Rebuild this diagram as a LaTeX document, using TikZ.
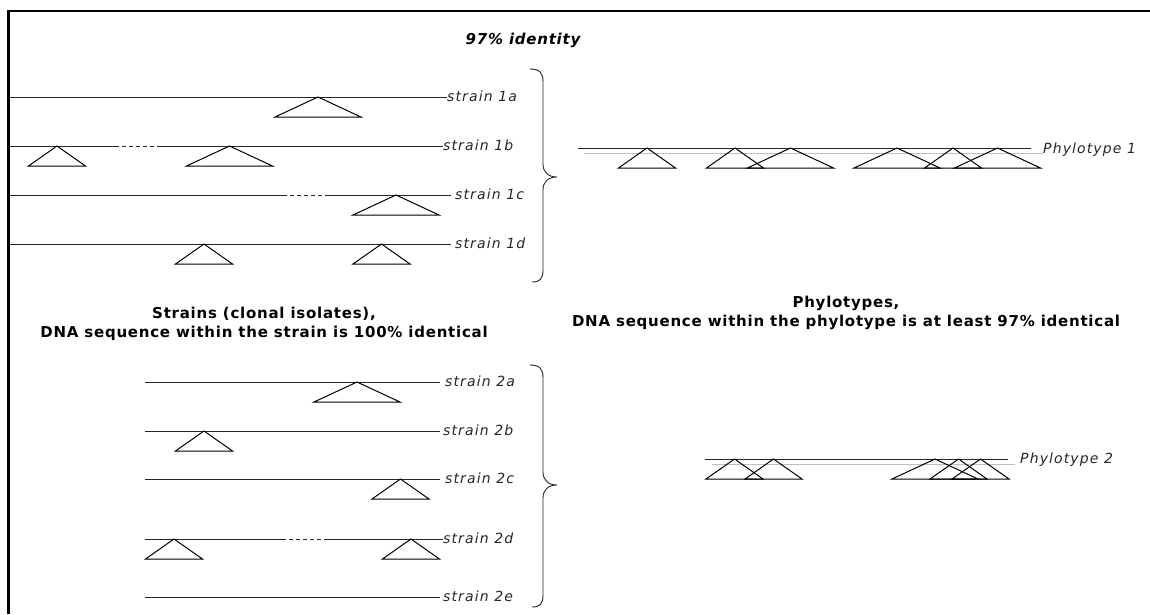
\documentclass[tikz,border=0pt]{standalone}
\usepackage{fontspec}
\setmainfont{DejaVu Sans}
\newfontfamily\labfont[LetterSpace=8]{DejaVu Sans}
\newfontfamily\headfont[LetterSpace=5]{DejaVu Sans}
\begin{document}
\begin{tikzpicture}[x=1pt,y=-1pt,
  seq/.style={line width=1pt,black!85},
  dashseg/.style={line width=1pt,black!85,dash pattern=on 4pt off 3pt},
  grayseq/.style={line width=1pt,black!25},
  tri/.style={line width=1pt,black},
  brace/.style={line width=0.9pt,black!85},
  lab/.style={font=\labfont\itshape\fontsize{14}{14}\selectfont,inner sep=0pt,anchor=base west,text=black!85},
  head/.style={font=\headfont\bfseries\fontsize{15}{19.5}\selectfont,align=center,inner sep=0pt},
  smalltri/.pic={\draw[tri] (0,0) -- (-28.5,20) -- (28.5,20) -- cycle;},
  largetri/.pic={\draw[tri] (0,0) -- (-43,20) -- (43,20) -- cycle;}
]
\useasboundingbox (0,0) rectangle (1150,614);
% frame
\draw[line width=3pt] (8.5,9.5) -- (8.5,614);
\draw[line width=2pt] (7,10.5) -- (1150,10.5);

% title
\node[font=\headfont\bfseries\itshape\fontsize{15}{15}\selectfont,inner sep=0pt] (title) at (523,40) {97\% identity};

% ---- group 1 strains ----
\node[lab] (s1a) at (447,101) {strain 1a};
\node[lab] (s1b) at (443,150) {strain 1b};
\node[lab] (s1c) at (455,199) {strain 1c};
\node[lab] (s1d) at (455,248) {strain 1d};
\coordinate (l1a) at (10,97);
\coordinate (l1b) at (10,146);
\coordinate (l1c) at (10,195);
\coordinate (l1d) at (10,244);
\draw[seq] (l1a) -- (s1a.west |- l1a);
\draw[seq] (l1b) -- (115,146);
\draw[dashseg] (115,146) -- (160,146);
\draw[seq] (160,146) -- (s1b.west |- l1b);
\draw[seq] (l1c) -- (283,195);
\draw[dashseg] (283,195) -- (328,195);
\draw[seq] (328,195) -- ([xshift=-4pt]s1c.west |- l1c);
\draw[seq] (l1d) -- ([xshift=-4pt]s1d.west |- l1d);
\pic at (318,97) {largetri};
\pic at (57,146) {smalltri};
\pic at (229.5,146) {largetri};
\pic at (396,195) {largetri};
\pic at (204,244) {smalltri};
\pic at (381.5,244) {smalltri};

% brace 1
\draw[brace] (530,69) .. controls (540,69) and (543,73) .. (543,82) -- (543,164)
  .. controls (543,172) and (548,177) .. (557,177)
  .. controls (548,177) and (543,182) .. (543,190) -- (543,270)
  .. controls (543,279) and (540,282) .. (532,282);

% ---- headings ----
\node[head] (lefthead) at (264,324) {Strains (clonal isolates),\\DNA sequence within the strain is 100\% identical};
\node[head] (righthead) at (846,313) {Phylotypes,\\DNA sequence within the phylotype is at least 97\% identical};

% ---- group 2 strains ----
\node[lab] (s2a) at (445,386) {strain 2a};
\node[lab] (s2b) at (443,435) {strain 2b};
\node[lab] (s2c) at (445,483) {strain 2c};
\node[lab] (s2d) at (443,543) {strain 2d};
\node[lab] (s2e) at (443,601) {strain 2e};
\coordinate (l2a) at (145,382);
\coordinate (l2b) at (145,431);
\coordinate (l2c) at (145,479);
\coordinate (l2d) at (145,539);
\coordinate (l2e) at (145,597);
\draw[seq] (l2a) -- ([xshift=-5pt]s2a.west |- l2a);
\draw[seq] (l2b) -- ([xshift=-3pt]s2b.west |- l2b);
\draw[seq] (l2c) -- ([xshift=-5pt]s2c.west |- l2c);
\draw[seq] (l2d) -- (282,539);
\draw[dashseg] (282,539) -- (327,539);
\draw[seq] (327,539) -- (s2d.west |- l2d);
\draw[seq] (l2e) -- ([xshift=-3pt]s2e.west |- l2e);
\pic at (357,382) {largetri};
\pic at (204,431) {smalltri};
\pic at (400.5,479) {smalltri};
\pic at (174,539) {smalltri};
\pic at (411,539) {smalltri};

% brace 2
\draw[brace] (530,365) .. controls (540,365) and (543,369) .. (543,378) -- (543,472)
  .. controls (543,480) and (548,485) .. (557,485)
  .. controls (548,485) and (543,490) .. (543,498) -- (543,595)
  .. controls (543,604) and (540,607) .. (532,607);

% ---- phylotype 1 ----
\node[lab] (p1) at (1043,153) {Phylotype 1};
\coordinate (p1s) at (578,148);
\coordinate (p1g) at (584,153);
\draw[grayseq] (p1g) -- (p1.west |- p1g);
\draw[seq] (p1s) -- ([xshift=-12pt]p1.west |- p1s);
\pic at (647,148) {smalltri};
\pic at (735,148) {smalltri};
\pic at (790.5,148) {largetri};
\pic at (897,148) {largetri};
\pic at (953,148) {smalltri};
\pic at (997.5,148) {largetri};

% ---- phylotype 2 ----
\node[lab] (p2) at (1020,463) {Phylotype 2};
\coordinate (p2s) at (705,459);
\coordinate (p2g) at (712,464);
\draw[grayseq] (p2g) -- ([xshift=-5pt]p2.west |- p2g);
\draw[seq] (p2s) -- ([xshift=-12pt]p2.west |- p2s);
\pic at (734.5,459) {smalltri};
\pic at (773.5,459) {smalltri};
\pic at (935,459) {largetri};
\pic at (958.5,459) {smalltri};
\pic at (980.5,459) {smalltri};
\end{tikzpicture}
\end{document}
